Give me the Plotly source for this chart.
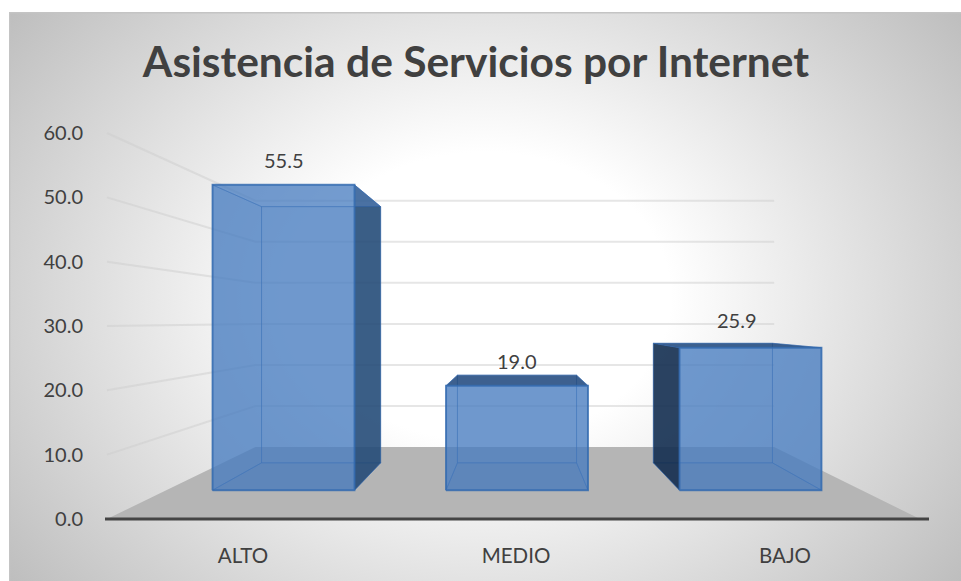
import base64
import plotly.graph_objects as go

categories = ['ALTO', 'MEDIO', 'BAJO']
values = [55.5, 19.0, 25.9]
value_ticks = [0, 10, 20, 30, 40, 50, 60]

# fake 3d box: x is in pixels from the vanishing line, y in axis units, d is depth 0..1
CX = 517
BACK_SCALE = 0.638
FLOOR_RISE = 11.19
FLOOR_LEFT, FLOOR_RIGHT = -410, 403
BAR_HALF = 83
BAR_CENTERS = [-273, 0, 273]
BAR_D0, BAR_D1 = 0.4, 0.78


def project(xu, v, d):
    s = 1 - d * (1 - BACK_SCALE)
    return CX + xu * s, d * FLOOR_RISE + v * s


def poly(fig, pts, fill, line='rgba(0,0,0,0)', width=1.5):
    p = [project(*q) for q in pts]
    p.append(p[0])
    fig.add_trace(go.Scatter(x=[a for a, b in p], y=[b for a, b in p], mode='lines', fill='toself',
                             fillcolor=fill, line=dict(color=line, width=width), hoverinfo='skip'))


svg = ('<svg xmlns="http://www.w3.org/2000/svg" width="952" height="569">'
       '<defs><radialGradient id="g" cx="0.5" cy="0.5" r="0.65" '
       'gradientTransform="translate(0.5 0.5) scale(1 1.3) translate(-0.5 -0.5)">'
       '<stop offset="0.3" stop-color="#ffffff"/><stop offset="1" stop-color="#bbbbbb"/>'
       '</radialGradient></defs><rect width="952" height="569" fill="url(#g)"/>'
       '<path d="M0.5 569V0.8H952" fill="none" stroke="#c4c4c4" stroke-width="1.6"/></svg>')
bg = 'data:image/svg+xml;base64,' + base64.b64encode(svg.encode()).decode()

fig = go.Figure()

# floor
poly(fig, [(FLOOR_LEFT, 0, 0), (FLOOR_RIGHT, 0, 0), (FLOOR_RIGHT, 0, 1), (FLOOR_LEFT, 0, 1)], '#b5b5b5')

# gridlines, back wall and left wall
GRID = 'rgba(205,205,205,0.5)'
for t in value_ticks[1:]:
    a = project(FLOOR_LEFT, t, 0)
    b = project(FLOOR_LEFT, t, 1)
    c = project(FLOOR_RIGHT, t, 1)
    fig.add_trace(go.Scatter(x=[a[0], b[0], c[0]], y=[a[1], b[1], c[1]], mode='lines',
                             line=dict(color=GRID, width=2), hoverinfo='skip'))

# axis line
fig.add_trace(go.Scatter(x=[CX + FLOOR_LEFT - 2, CX + FLOOR_RIGHT + 9], y=[0, 0], mode='lines',
                         line=dict(color='#444444', width=3), hoverinfo='skip'))

LIGHT = 'rgba(70,122,190,0.5)'
FLOORC = 'rgba(55,105,175,0.45)'
FRONT = 'rgba(72,124,192,0.56)'
EDGE = 'rgba(50,105,175,0.45)'
for xc, v in zip(BAR_CENTERS, values):
    x0, x1 = xc - BAR_HALF, xc + BAR_HALF
    d0, d1 = BAR_D0, BAR_D1
    left_wall = [(x0, 0, d0), (x0, 0, d1), (x0, v, d1), (x0, v, d0)]
    right_wall = [(x1, 0, d0), (x1, 0, d1), (x1, v, d1), (x1, v, d0)]
    # a wall that sticks out of the front face is seen from outside, so it is dark
    left_out = project(x0, 0, d1)[0] < project(x0, 0, d0)[0]
    right_out = project(x1, 0, d1)[0] > project(x1, 0, d0)[0]
    top_out = project(x0, v, d1)[1] > project(x0, v, d0)[1]
    # back
    poly(fig, [(x0, 0, d1), (x1, 0, d1), (x1, v, d1), (x0, v, d1)], LIGHT, EDGE, 1)
    if not left_out:
        poly(fig, left_wall, LIGHT, EDGE, 1)
    if not right_out:
        poly(fig, right_wall, LIGHT, EDGE, 1)
    poly(fig, [(x0, 0, d0), (x1, 0, d0), (x1, 0, d1), (x0, 0, d1)], FLOORC, EDGE, 1)
    if left_out:
        poly(fig, left_wall, 'rgba(12,36,66,0.8)', EDGE, 1)
    if right_out:
        poly(fig, right_wall, 'rgba(32,70,111,0.8)', EDGE, 1)
    poly(fig, [(x0, v, d0), (x1, v, d0), (x1, v, d1), (x0, v, d1)],
         'rgba(32,70,120,0.78)' if top_out else 'rgba(70,122,190,0.45)', EDGE, 1)
    poly(fig, [(x0, 0, d0), (x1, 0, d0), (x1, v, d0), (x0, v, d0)], FRONT, 'rgba(50,105,175,0.75)', 2)

fig.add_layout_image(dict(source=bg, xref='paper', yref='paper', x=9 / 961, y=1 - 12 / 581,
                          sizex=952 / 961, sizey=569 / 581, xanchor='left', yanchor='top',
                          sizing='stretch', layer='below'))

label_dx = [0, 0, -13]
label_dy = [25, 25, 28]
for xc, v, dx, dy in zip(BAR_CENTERS, values, label_dx, label_dy):
    x, y = project(xc, v, BAR_D0)
    fig.add_annotation(x=x, y=y, text=f'{v:.1f}', showarrow=False, xshift=dx, yshift=dy,
                       font=dict(family='Lato', size=20, color='#404040'))

PX = 6.4333
fig.update_layout(
    width=961, height=581,
    margin=dict(l=0, r=0, t=0, b=0),
    paper_bgcolor='white',
    plot_bgcolor='rgba(0,0,0,0)',
    showlegend=False,
    title=dict(text='<b>Asistencia de Servicios por Internet</b>', x=476 / 961, y=1 - 62 / 581,
               xanchor='center', yanchor='middle',
               font=dict(family='Lato', size=42.5, color='#404040')),
    xaxis=dict(range=[0, 961], anchor='free', position=62 / 581, showgrid=False, zeroline=False,
               tickmode='array', tickvals=[CX - 274, CX - 1, CX + 268], ticktext=categories,
               ticks='outside', ticklen=18, tickcolor='rgba(0,0,0,0)',
               tickfont=dict(family='Lato', size=20.5, color='#404040')),
    yaxis=dict(range=[-62 / PX, 519 / PX], anchor='free', position=103 / 961, showgrid=False,
               zeroline=False, tickmode='array', tickvals=value_ticks, tickformat='.1f',
               ticks='outside', ticklen=16, tickcolor='rgba(0,0,0,0)',
               tickfont=dict(family='Lato', size=20, color='#404040')),
)

# the page margin would push the chart off its place
fig.write_html("out.html", config=dict(displayModeBar=False),
               post_script="document.body.style.margin='0';")
